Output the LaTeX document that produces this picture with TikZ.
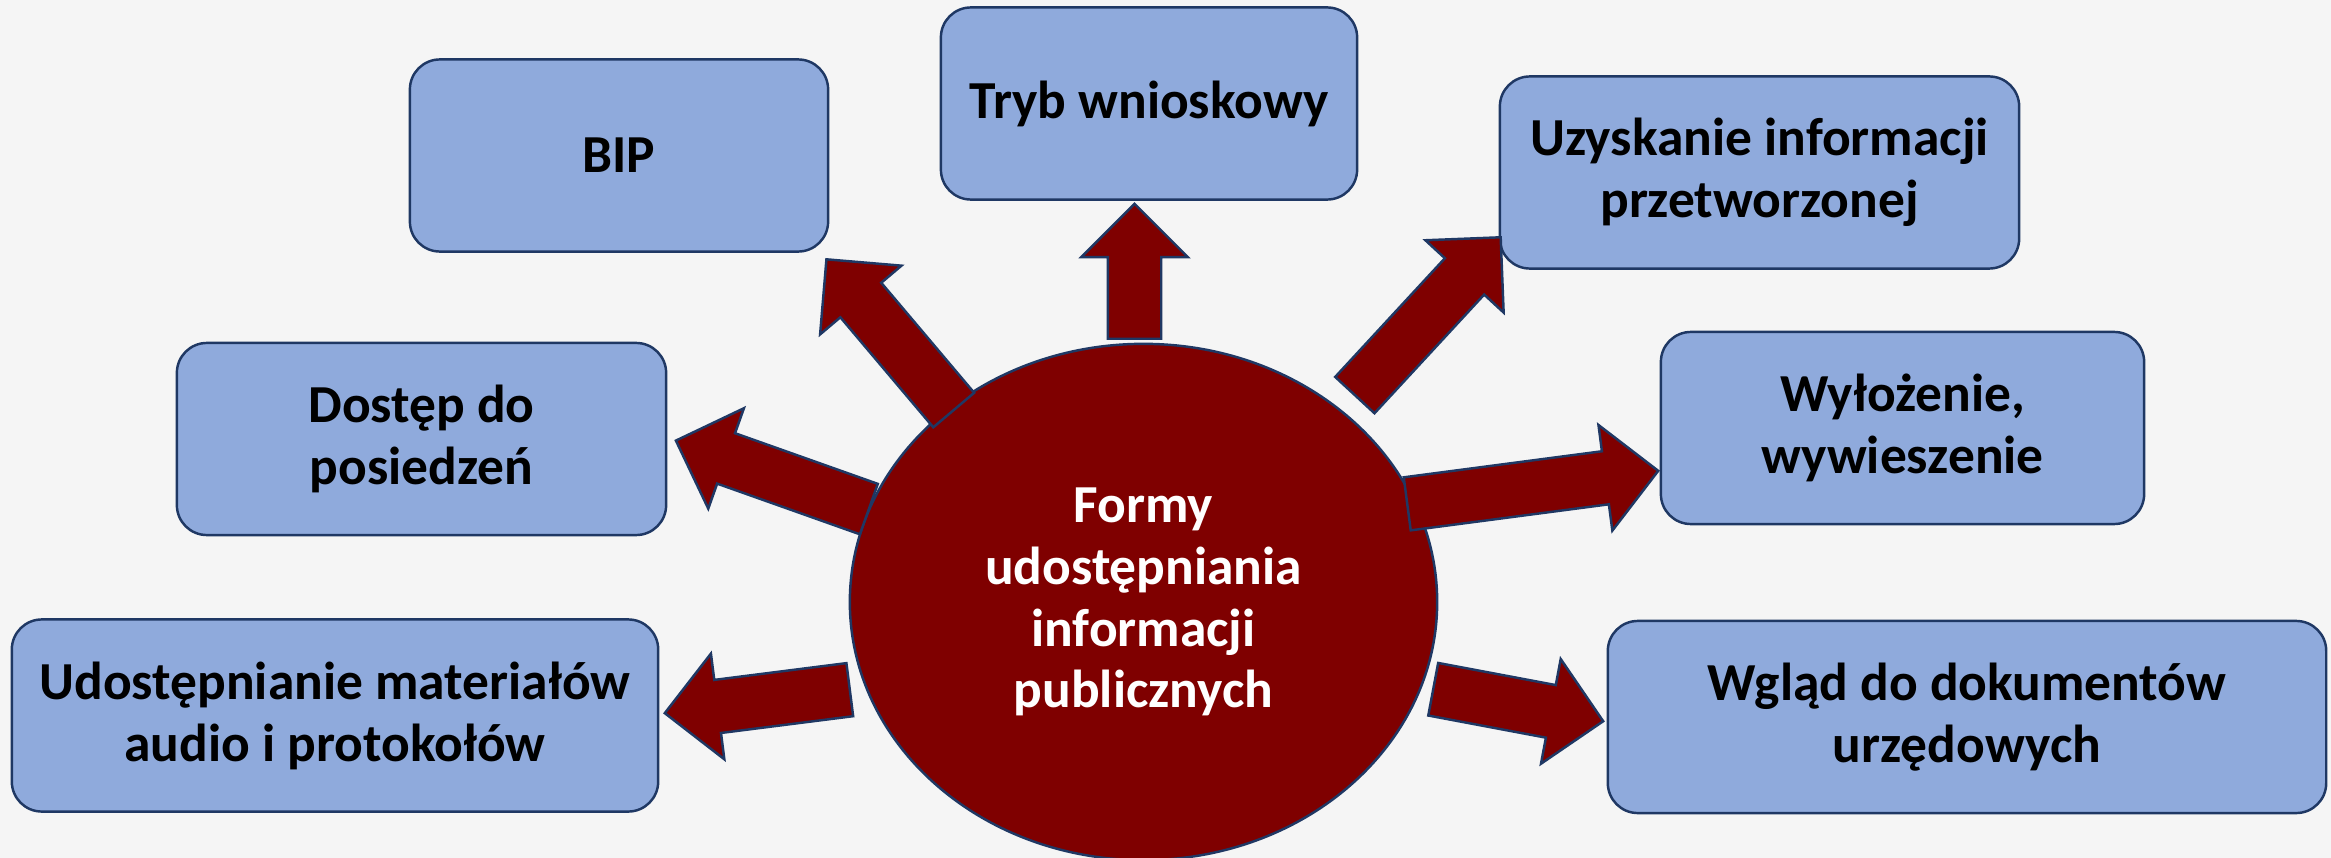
\documentclass[tikz,border=0pt]{standalone}
\usepackage{fontspec}
\setmainfont{Carlito}
\usepackage{tikz}
\usetikzlibrary{shapes.geometric, shapes.arrows, calc}

\definecolor{paper}{HTML}{F5F5F5}
\definecolor{boxblue}{HTML}{8FAADC}
\definecolor{edgenavy}{HTML}{1F3864}
\definecolor{formred}{HTML}{7F0000}

% block arrow from #1 (tail) to #2 (tip)
\newcommand{\fatarrow}[2]{%
    \path let \p1 = (#1), \p2 = (#2),
        \n1 = {atan2(\y2-\y1, \x2-\x1)},
        \n2 = {veclen(\x2-\x1, \y2-\y1)} in
        node[fat arrow, minimum height = \n2, rotate = \n1, anchor = tail] at (#1) {};
}

\begin{document}
\begin{tikzpicture}[
            x = 0.01cm, y = -0.01cm, % one unit = one pixel
            font = \bfseries\fontsize{15.2pt}{17.6pt}\selectfont,
            line width = 0.7pt % line style
        ]

        \tikzstyle{box}=[
            draw = edgenavy,
            fill = boxblue,
            rectangle,
            rounded corners = 0.3cm,
            align = center,
            minimum height = 1.92cm
        ]
        \tikzstyle{fat arrow}=[
            single arrow,
            draw = edgenavy,
            fill = formred,
            inner xsep = 0pt,
            inner ysep = 0.255cm, % half the shaft
            single arrow head extend = 0.265cm,
            single arrow tip angle = 90
        ]

	\fill[paper] (0,0) rectangle (2331,858);
	\useasboundingbox (0,0) rectangle (2331,858);

	\node[ellipse, draw = edgenavy, fill = formred, text = white, align = center,
	      minimum width = 5.87cm, minimum height = 5.16cm] (c) at (1143.5,602)
	      {Formy\\udostępniania\\informacji\\publicznych};

	\node[box, minimum width = 4.18cm] (bip) at (619,155.5) {BIP};
	\node[box, minimum width = 4.16cm] (tryb) at (1149,103.5) {Tryb wnioskowy};
	\node[box, minimum width = 5.19cm] (uzysk) at (1759.5,172.5) {Uzyskanie informacji\\przetworzonej};
	\node[box, minimum width = 4.89cm] (dostep) at (421.5,439) {Dostęp do\\posiedzeń};
	\node[box, minimum width = 4.83cm] (wyloz) at (1902.5,428) {Wyłożenie,\\wywieszenie};
	\node[box, minimum width = 6.46cm] (udost) at (335,715.5) {Udostępnianie materiałów\\audio i protokołów};
	\node[box, minimum width = 7.18cm] (wglad) at (1967,717) {Wgląd do dokumentów\\urzędowych};

	% arrow ends
	\coordinate (t1) at (954.5,411);  \coordinate (h1) at (827,260);
	\coordinate (t2) at (1134.5,340); \coordinate (h2) at (1134.5,205);
	\coordinate (t3) at (1354,396);   \coordinate (h3) at (1500,238);
	\coordinate (t4) at (870,509.5);  \coordinate (h4) at (677,441);
	\coordinate (t5) at (1406,504);   \coordinate (h5) at (1657,471);
	\coordinate (t6) at (851,689.5);  \coordinate (h6) at (666,713);
	\coordinate (t7) at (1432,689);   \coordinate (h7) at (1602,721);

	\fatarrow{t1}{h1}
	\fatarrow{t2}{h2}
	\fatarrow{t3}{h3}
	\fatarrow{t4}{h4}
	\fatarrow{t5}{h5}
	\fatarrow{t6}{h6}
	\fatarrow{t7}{h7}

    \end{tikzpicture}
\end{document}
